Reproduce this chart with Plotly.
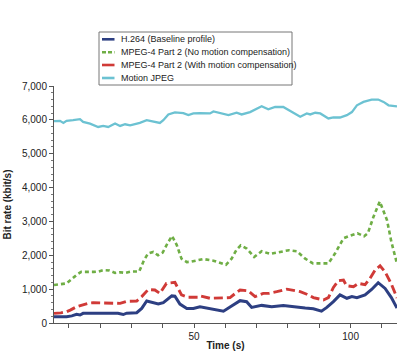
import plotly.graph_objects as go

# ---- data ----
t_h264 = [5.3, 9.3, 11, 12.5, 13.6, 14.6, 17, 20, 23, 25.7, 27.4, 28.5, 31.7, 33.3, 34.9, 37, 38.6, 40.2,
          42.9, 43.9, 45.5, 47.7, 49.8, 51.9, 55.1, 57.5, 59.4, 62, 64.7, 66.8, 68.4, 71.6, 74.8, 78.5,
          82.8, 85.5, 88.1, 90.7, 92.4, 94.5, 96.6, 98.8, 100.4, 102, 104.6, 106.7, 108.8, 111, 113, 114.8]
v_h264 = [185, 185, 210, 255, 235, 285, 290, 290, 285, 285, 250, 290, 305, 430, 650, 610, 560, 600,
          800, 790, 560, 430, 430, 480, 430, 390, 350, 500, 660, 630, 460, 520, 480, 520,
          460, 440, 420, 350, 460, 630, 830, 730, 780, 750, 830, 990, 1190, 1020, 750, 440]

t_mp4_nomc = [5.3, 7.5, 9.3, 11, 12.5, 14, 16, 18, 19.5, 21, 23, 24.8, 26.5, 28, 30, 32.5, 34, 35.3, 37,
              38.5, 40, 41.5, 43, 44.5, 46, 47.7, 49, 51, 53, 56.2, 58.5, 60.2, 62, 63.5, 64.9, 66.8,
              69.2, 71.6, 74.3, 77.3, 80.3, 82.8, 85.5, 88, 90.3, 92.9, 95, 96.5, 97.7, 99.3, 102.2,
              104.3, 105.5, 107.3, 109.3, 111.6, 113, 114.8]
v_mp4_nomc = [1120, 1140, 1170, 1300, 1420, 1510, 1500, 1510, 1520, 1560, 1550, 1480, 1500, 1480, 1520,
              1520, 1850, 2050, 2100, 2000, 2080, 2350, 2570, 2300, 1900, 1800, 1810, 1840, 1890, 1840,
              1780, 1720, 1900, 2150, 2290, 2200, 1950, 2120, 2040, 2100, 2150, 2120, 1900, 1760, 1750,
              1760, 2050, 2300, 2500, 2560, 2650, 2560, 2650, 3140, 3590, 3040, 2400, 1750]

t_mp4_mc = [5.3, 7.5, 9.3, 10.5, 12.5, 14.6, 16.5, 17.8, 20, 22.5, 24.5, 26.4, 28.5, 30, 31.7, 33.3, 35.4,
            37.5, 39.1, 41.2, 43.9, 46, 48.2, 51.4, 52, 55.1, 58, 61.5, 63, 64.7, 67.3, 69.5, 72.1, 74,
            76.4, 79.6, 83.9, 86, 88.1, 91.3, 92.9, 94.5, 96.1, 97.7, 98.7, 100.9, 102.5, 104.6, 106.2,
            107.8, 109.4, 111, 113, 114.8]
v_mp4_mc = [285, 300, 335, 380, 480, 550, 590, 600, 595, 590, 585, 580, 640, 650, 650, 780, 990,
            975, 875, 1170, 1200, 830, 760, 760, 800, 730, 740, 750, 860, 975, 950, 780, 875, 880,
            925, 1000, 925, 850, 750, 680, 750, 1050, 1250, 1270, 1100, 1070, 1170, 1130, 1320,
            1560, 1690, 1510, 1150, 740]

t_mjpeg = [5.3, 7.2, 8.3, 9.3, 11.4, 13.6, 14.6, 16.8, 19.4, 21, 22.6, 24.8, 26.4, 28, 29.6, 32.7, 34.9,
           37, 39.1, 40.2, 41.8, 43.9, 46.6, 48.2, 49.8, 51.9, 55.1, 56.2, 58.3, 61, 63.6, 65.2, 67.9,
           71.6, 73.7, 75.9, 78.5, 81.2, 83.9, 86, 87.1, 88.7, 90.3, 92.9, 94.5, 96.6, 98.8, 100.4, 102,
           104.1, 106.7, 108.8, 110.5, 112.1, 114.8]
v_mjpeg = [5960, 5970, 5910, 5970, 5990, 6020, 5940, 5890, 5790, 5820, 5790, 5890, 5820, 5870, 5840, 5910,
           5990, 5940, 5910, 5990, 6160, 6220, 6200, 6140, 6190, 6200, 6190, 6250, 6200, 6140, 6210,
           6160, 6230, 6400, 6310, 6380, 6380, 6230, 6090, 6190, 6160, 6210, 6190, 6040, 6070, 6070,
           6140, 6230, 6430, 6530, 6600, 6600, 6530, 6430, 6400]

x_tick_vals = [10, 20, 30, 40, 50, 60, 70, 80, 90, 100, 110]
x_tick_text = ["", "", "", "", "50", "", "", "", "", "100", ""]
y_tick_vals = [0, 1000, 2000, 3000, 4000, 5000, 6000, 7000]

names = ["H.264 (Baseline profile)",
         "MPEG-4 Part 2 (No motion compensation)",
         "MPEG-4 Part 2 (With motion compensation)",
         "Motion JPEG"]

FONT = "Liberation Sans, Arial, sans-serif"
W, H = 400, 355
ML, MR, MT, MB = 54, 3, 86, 32
PW, PH = W - ML - MR, H - MT - MB

styles = [dict(color="#2d3f82", width=3.0),
          dict(color="#6fae45", width=2.6, dash="4px,3px"),
          dict(color="#d03a37", width=2.9, dash="9px,4px"),
          dict(color="#6cc2d2", width=2.3)]
series = [(t_h264, v_h264), (t_mp4_nomc, v_mp4_nomc), (t_mp4_mc, v_mp4_mc), (t_mjpeg, v_mjpeg)]

fig = go.Figure()
for i in [3, 1, 2, 0]:
    fig.add_trace(go.Scatter(x=series[i][0], y=series[i][1], mode="lines", name=names[i],
                             line=styles[i]))


def px_x(p):
    return (p - ML) / PW


def px_y(p):
    return (H - MB - p) / PH


# legend box (compact, as in the reference)
shapes = [dict(type="rect", xref="paper", yref="paper",
               x0=px_x(99), x1=px_x(292), y0=px_y(85), y1=px_y(32),
               line=dict(color="#777", width=1), fillcolor="white", layer="above")]
annotations = []
row_y = [39.3, 52.3, 65.0, 78.0]
for i, name in enumerate(names):
    st = dict(styles[i])
    if "dash" in st:
        st["dash"] = "4px,2px" if i == 1 else "solid"
    st["width"] = 2.6
    shapes.append(dict(type="line", xref="paper", yref="paper",
                       x0=px_x(102), x1=px_x(114.5), y0=px_y(row_y[i]), y1=px_y(row_y[i]),
                       line=st, layer="above"))
    annotations.append(dict(xref="paper", yref="paper", x=px_x(119), y=px_y(row_y[i]),
                            xanchor="left", yanchor="middle", showarrow=False, text=name,
                            font=dict(family=FONT, size=9, color="#222")))

fig.update_layout(
    width=W, height=H,
    margin=dict(l=ML, r=MR, t=MT, b=MB, autoexpand=False),
    plot_bgcolor="white", paper_bgcolor="white",
    font=dict(family=FONT, size=10, color="#222"),
    showlegend=False,
    shapes=shapes, annotations=annotations,
    xaxis=dict(range=[5.3, 114.8], tickmode="array", tickvals=x_tick_vals, ticktext=x_tick_text,
               ticks="outside", ticklen=4, tickcolor="#555", showline=True, linecolor="#555",
               linewidth=1, showgrid=False, zeroline=False,
               tickfont=dict(family=FONT, size=10, color="#222"),
               title=dict(text="<b>Time (s)</b>", font=dict(family=FONT, size=10, color="#222"),
                          standoff=0)),
    yaxis=dict(range=[0, 7000], tickmode="array", tickvals=y_tick_vals, tickformat=",",
               ticks="outside", ticklen=4, tickcolor="#555", showline=True, linecolor="#555",
               linewidth=1, showgrid=False, zeroline=False,
               minor=dict(dtick=200, ticks="outside", ticklen=2, tickcolor="#777", showgrid=False),
               tickfont=dict(family=FONT, size=10, color="#222"),
               title=dict(text="<b>Bit rate (kbit/s)</b>", font=dict(family=FONT, size=10, color="#222"),
                          standoff=8)),
)

fig.write_html("out.html", config={"displayModeBar": False},
               post_script="document.body.style.margin='0';")
